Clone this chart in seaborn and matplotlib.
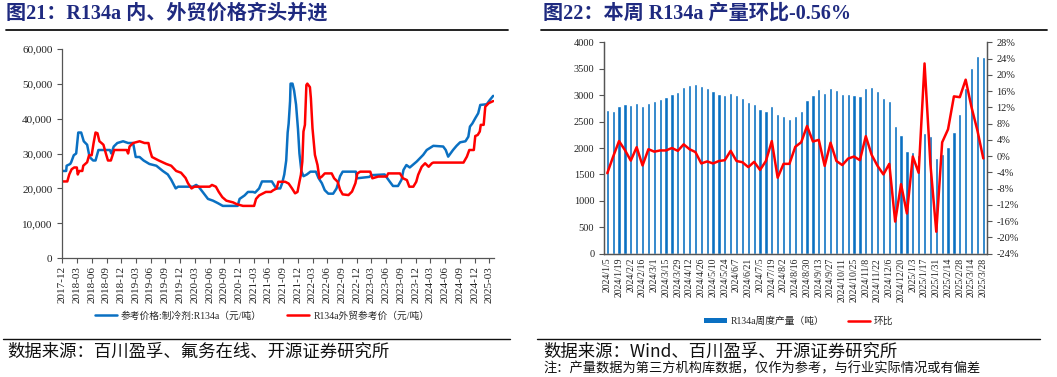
import numpy as np
import pandas as pd
import matplotlib
matplotlib.use("Agg")
import matplotlib.pyplot as plt
import matplotlib.dates as mdates
from matplotlib.lines import Line2D
from matplotlib.patches import Patch
from matplotlib.ticker import FuncFormatter, MultipleLocator
import seaborn as sns

# ---------------- data: left chart (price, 元/吨) ----------------
dom_dates = ["2017-12-01", "2017-12-25", "2017-12-28", "2018-01-19", "2018-01-25", "2018-02-10", "2018-02-25",
             "2018-03-10", "2018-03-28", "2018-04-13", "2018-05-04", "2018-05-19", "2018-06-10", "2018-06-25",
             "2018-07-13", "2018-09-22", "2018-10-01", "2018-10-16", "2018-11-07", "2018-12-13", "2019-01-13",
             "2019-02-13", "2019-03-01", "2019-03-25", "2019-04-19", "2019-05-25", "2019-07-07", "2019-08-16",
             "2019-09-16", "2019-10-07", "2019-11-04", "2019-11-19", "2020-02-19", "2020-03-10", "2020-03-25",
             "2020-04-19", "2020-05-22", "2020-06-22", "2020-07-22", "2020-08-22", "2020-11-22", "2020-12-04",
             "2021-01-04", "2021-01-25", "2021-02-25", "2021-03-10", "2021-04-04", "2021-04-22", "2021-06-22",
             "2021-07-19", "2021-08-13", "2021-08-25", "2021-09-07", "2021-09-19", "2021-09-28", "2021-10-04",
             "2021-10-13", "2021-10-16", "2021-10-28", "2021-11-07", "2021-11-19", "2021-12-01", "2021-12-10",
             "2021-12-22", "2022-01-04", "2022-01-25", "2022-02-16", "2022-03-22", "2022-04-07", "2022-04-28",
             "2022-05-16", "2022-06-07", "2022-07-07", "2022-07-28", "2022-08-19", "2022-09-04", "2022-11-25",
             "2022-12-01", "2023-02-16", "2023-03-01", "2023-05-22", "2023-06-22", "2023-07-13", "2023-08-13",
             "2023-09-04", "2023-09-16", "2023-10-04", "2023-10-25", "2023-12-07", "2024-01-16", "2024-02-07",
             "2024-03-19", "2024-05-19", "2024-06-04", "2024-06-19", "2024-07-19", "2024-08-10", "2024-09-01",
             "2024-10-04", "2024-10-22", "2024-11-01", "2024-11-16", "2024-12-04", "2024-12-22", "2025-01-04",
             "2025-02-13", "2025-03-04", "2025-03-25"]
dom_price = [25000, 25000, 26500, 27000, 27500, 29500, 30000,
             36000, 36000, 33500, 32500, 29000, 28000, 28000,
             31000, 31000, 30000, 32000, 33000, 33500, 33000,
             33000, 29000, 29000, 28000, 27000, 26500, 25000,
             24000, 22500, 20000, 20500, 20500, 21000, 20500,
             19000, 17000, 16500, 15800, 15000, 15000, 17000,
             18000, 19000, 19000, 18800, 20000, 22000, 22000,
             20000, 20000, 21500, 24000, 28000, 36000, 38500,
             45000, 50000, 50000, 48000, 44000, 37000, 30000,
             25000, 23500, 24000, 24800, 24800, 23000, 21500,
             19500, 18500, 18500, 20000, 23500, 24800, 24800,
             22900, 23300, 23800, 24000, 22000, 20700, 20700,
             22500, 25300, 26700, 26000, 27700, 29600, 31000,
             32200, 32000, 31000, 29100, 31000, 32200, 33200,
             33500, 34800, 37700, 38600, 40100, 41500, 43900,
             44100, 45300, 46500]

exp_dates = ["2017-12-01", "2018-01-01", "2018-01-13", "2018-01-28", "2018-02-13", "2018-03-01", "2018-03-07",
             "2018-03-16", "2018-04-04", "2018-04-10", "2018-05-04", "2018-05-16", "2018-06-01", "2018-06-13",
             "2018-06-25", "2018-07-07", "2018-07-19", "2018-08-01", "2018-08-13", "2018-08-28", "2018-09-10",
             "2018-09-28", "2018-10-19", "2019-01-04", "2019-01-13", "2019-01-22", "2019-02-13", "2019-03-25",
             "2019-04-25", "2019-05-19", "2019-05-28", "2019-06-10", "2019-07-01", "2019-07-22", "2019-09-07",
             "2019-10-07", "2019-11-07", "2019-12-07", "2020-01-04", "2020-01-19", "2020-02-10", "2020-02-28",
             "2020-06-01", "2020-06-16", "2020-07-10", "2020-07-28", "2020-08-19", "2020-09-13", "2020-10-25",
             "2020-11-16", "2020-12-25", "2021-03-04", "2021-03-16", "2021-04-04", "2021-04-25", "2021-05-16",
             "2021-06-16", "2021-07-01", "2021-07-22", "2021-08-01", "2021-09-13", "2021-10-04", "2021-10-25",
             "2021-11-13", "2021-11-28", "2021-12-10", "2021-12-19", "2021-12-28", "2022-01-04", "2022-01-13",
             "2022-01-22", "2022-01-28", "2022-02-13", "2022-02-19", "2022-03-01", "2022-03-16", "2022-04-01",
             "2022-04-13", "2022-04-28", "2022-05-16", "2022-06-28", "2022-07-13", "2022-08-04", "2022-08-19",
             "2022-09-04", "2022-10-10", "2022-11-01", "2022-11-22", "2022-12-04", "2022-12-22", "2023-02-22",
             "2023-03-07", "2023-04-13", "2023-06-04", "2023-06-13", "2023-08-25", "2023-09-13", "2023-10-07",
             "2023-10-22", "2023-11-16", "2023-12-04", "2023-12-16", "2024-01-07", "2024-01-28", "2024-02-19",
             "2024-03-10", "2024-03-19", "2024-09-22", "2024-10-13", "2024-10-28", "2024-11-25", "2024-12-04",
             "2024-12-19", "2025-01-01", "2025-01-07", "2025-01-25", "2025-02-04", "2025-02-25", "2025-03-25"]
exp_price = [22000, 22000, 24000, 25500, 26000, 26000, 24000,
             25000, 25000, 26500, 27500, 29500, 29500, 33000,
             36000, 35800, 33500, 33000, 32500, 30000, 28000,
             28000, 31000, 31000, 30000, 32000, 33000, 33500,
             33000, 33000, 31000, 29000, 28500, 28000, 27000,
             26500, 25000, 24500, 23000, 21500, 20000, 20500,
             20500, 21000, 20500, 19000, 17500, 16500, 16000,
             15500, 15000, 15000, 17000, 18000, 18500, 19000,
             19000, 19500, 20000, 21900, 21900, 21400, 20000,
             18600, 19000, 21900, 23900, 27700, 36300, 38200,
             49600, 50000, 49000, 45800, 37200, 29600, 26700,
             22900, 23400, 24300, 24300, 22900, 21900, 19600,
             18300, 18100, 19100, 21500, 24300, 24800, 24800,
             22900, 23400, 23400, 24300, 24300, 22900, 22400,
             20500, 20500, 21900, 23900, 26200, 27200, 26200,
             27200, 27400, 27400, 29100, 31000, 31000, 35000,
             35300, 36300, 38200, 38200, 43400, 44400, 45000]

left_series = ["参考价格:制冷剂:R134a（元/吨）", "R134a外贸参考价（元/吨）"]

# ---------------- data: right chart (weekly output) ----------------
weeks = ["2024/1/5", "2024/1/12", "2024/1/19", "2024/1/26", "2024/2/2", "2024/2/9", "2024/2/16", "2024/2/23",
         "2024/3/1", "2024/3/8", "2024/3/15", "2024/3/22", "2024/3/29", "2024/4/5", "2024/4/12", "2024/4/19",
         "2024/4/26", "2024/5/3", "2024/5/10", "2024/5/17", "2024/5/24", "2024/5/31", "2024/6/7", "2024/6/14",
         "2024/6/21", "2024/6/28", "2024/7/5", "2024/7/12", "2024/7/19", "2024/7/26", "2024/8/2", "2024/8/9",
         "2024/8/16", "2024/8/23", "2024/8/30", "2024/9/6", "2024/9/13", "2024/9/20", "2024/9/27", "2024/10/4",
         "2024/10/11", "2024/10/18", "2024/10/25", "2024/11/1", "2024/11/8", "2024/11/15", "2024/11/22",
         "2024/11/29", "2024/12/6", "2024/12/13", "2024/12/20", "2024/12/27", "2025/1/3", "2025/1/10",
         "2025/1/17", "2025/1/24", "2025/1/31", "2025/2/7", "2025/2/14", "2025/2/21", "2025/2/28", "2025/3/7",
         "2025/3/14", "2025/3/21", "2025/3/28"]
output = [2710, 2700, 2800, 2840, 2810, 2860, 2800, 2850,
          2880, 2920, 2960, 3020, 3060, 3150, 3200, 3220,
          3170, 3130, 3070, 3030, 3000, 3040, 3000, 2950,
          2870, 2830, 2730, 2700, 2800, 2650, 2600, 2550,
          2610, 2700, 2900, 3000, 3120, 3040, 3140, 3090,
          3030, 3015, 3010, 2980, 3130, 3150, 3070,
          2940, 2890, 2420, 2250, 1940, 1930, 1860,
          2280, 2230, 1820, 1890, 2010, 2310, 2640, 3140,
          3510, 3740, 3720]
wow_pct = [-4.2, -0.1, 3.7, 1.5, -1.1, 2.2, -2.3, 1.7,
           1.1, 1.4, 1.4, 2.0, 1.3, 2.9, 1.7, 1.0,
           -1.8, -1.3, -1.8, -1.2, -1.0, 1.3, -1.2, -1.5,
           -2.7, -1.4, -3.4, -1.2, 3.7, -5.3, -1.9, -1.9,
           2.3, 3.4, 7.4, 3.6, 4.0, -2.4, 3.3, -1.2,
           -2.2, -0.6, -0.1, -1.0, 4.9, 0.3, -2.4,
           -4.5, -1.9, -16.1, -6.9, -14.1, -0.1, -4.1,
           22.8, -2.0, -18.6, 3.4, 6.6, 14.7, 14.5, 18.8,
           12.0, 6.3, -0.56]
right_series = ["R134a周度产量（吨）", "环比"]

titles = ["图21：R134a 内、外贸价格齐头并进", "图22：本周 R134a 产量环比-0.56%"]
sources = ["数据来源：百川盈孚、氟务在线、开源证券研究所", "数据来源：Wind、百川盈孚、开源证券研究所"]
note = "注：产量数据为第三方机构库数据，仅作为参考，与行业实际情况或有偏差"

# ---------------- style ----------------
sns.set_theme(style="white")
SERIF = ["Liberation Serif", "Noto Sans CJK SC", "DejaVu Sans"]
CJK = ["Noto Sans CJK SC", "DejaVu Sans"]
plt.rcParams["font.family"] = SERIF
plt.rcParams["axes.unicode_minus"] = False

BLUE = "#0A70C2"
RED = "#FF0000"
NAVY = "#1F2A80"
W, H = 1057, 377

fig = plt.figure(figsize=(W / 100, H / 100), dpi=100)
fig.patch.set_facecolor("white")


def fx(px):
    return px / W


def fy(py):
    return 1 - py / H


# ---------------- left chart ----------------
axL = fig.add_axes([fx(62.3), fy(258.3), fx(493.5 - 62.3), (258.3 - 48.7) / H])
df_dom = pd.DataFrame({"date": pd.to_datetime(dom_dates), "price": dom_price})
df_exp = pd.DataFrame({"date": pd.to_datetime(exp_dates), "price": exp_price})
sns.lineplot(data=df_dom, x="date", y="price", color=BLUE, lw=1.8, ax=axL, label=left_series[0])
sns.lineplot(data=df_exp, x="date", y="price", color=RED, lw=1.8, ax=axL, label=left_series[1])
axL.set_xlim(pd.Timestamp("2017-12-01"), pd.Timestamp("2025-03-27"))
axL.set_ylim(0, 60000)
axL.yaxis.set_major_locator(MultipleLocator(10000))
axL.yaxis.set_major_formatter(FuncFormatter(lambda v, p: f"{v:,.0f}"))
axL.xaxis.set_major_locator(mdates.MonthLocator(bymonth=[3, 6, 9, 12], bymonthday=1))
axL.xaxis.set_major_formatter(mdates.DateFormatter("%Y-%m"))
axL.set_xlabel("")
axL.set_ylabel("")
for s in ["top", "right"]:
    axL.spines[s].set_visible(False)
for s in ["left", "bottom"]:
    axL.spines[s].set_color("#555555")
    axL.spines[s].set_linewidth(0.9)
axL.tick_params(axis="both", which="major", direction="out", length=3.5, width=0.8,
                color="#555555", labelsize=8, labelcolor="#222222", left=True, bottom=True)
axL.tick_params(axis="x", pad=2)
for t in axL.get_xticklabels():
    t.set_rotation(90)
axL.legend(loc="center", bbox_to_anchor=(fx(262), fy(316)), bbox_transform=fig.transFigure,
           ncol=2, frameon=False, handlelength=2.3, columnspacing=2.6,
           handletextpad=0.4, prop={"family": SERIF, "size": 7})

# ---------------- right chart ----------------
axR = fig.add_axes([fx(604), fy(253.7), fx(986.7 - 604), (253.7 - 42.3) / H])
sns.barplot(x=weeks, y=output, color=BLUE, width=0.55, ax=axR, saturation=1)
axR.set_ylim(0, 4000)
axR.yaxis.set_major_locator(MultipleLocator(500))
axR.set_xlim(-0.56, len(weeks) - 1 + 0.58)
axR.set_xticks(range(0, len(weeks), 2))
axR.set_xticklabels(weeks[::2], rotation=90)
axR.set_xlabel("")
axR.set_ylabel("")
axR.spines["top"].set_visible(False)
for s in ["left", "bottom", "right"]:
    axR.spines[s].set_color("#555555")
    axR.spines[s].set_linewidth(0.9)
axR.tick_params(axis="y", direction="out", length=3.5, width=0.8, color="#555555",
                labelsize=7.5, labelcolor="#222222", left=True)
axR.tick_params(axis="x", direction="out", length=0, labelsize=7, labelcolor="#222222", pad=3)

axR2 = axR.twinx()
sns.lineplot(x=np.arange(len(weeks)), y=wow_pct, color=RED, lw=1.8, ax=axR2, sort=False)
axR2.set_ylim(-24, 28)
axR2.yaxis.set_major_locator(MultipleLocator(4))
axR2.yaxis.set_major_formatter(FuncFormatter(lambda v, p: f"{v:.0f}%"))
axR2.set_ylabel("")
axR2.spines["top"].set_visible(False)
for s in ["left", "bottom", "right"]:
    axR2.spines[s].set_color("#555555")
    axR2.spines[s].set_linewidth(0.9)
axR2.tick_params(axis="y", direction="out", length=3.5, width=0.8, color="#555555",
                 labelsize=7.5, labelcolor="#222222", right=True)
axR2.set_xlim(axR.get_xlim())

handles = [Patch(facecolor=BLUE, edgecolor="none"), Line2D([0], [0], color=RED, lw=1.8)]
axR2.legend(handles, right_series, loc="center", bbox_to_anchor=(fx(799), fy(321)),
            bbox_transform=fig.transFigure, ncol=2, frameon=False, handlelength=2.3,
            handleheight=0.45, columnspacing=2.4, handletextpad=0.4,
            prop={"family": SERIF, "size": 7})

# ---------------- titles, rules, sources ----------------
fig.text(fx(6), fy(14), titles[0], fontsize=14.5, fontweight="bold", color=NAVY,
         va="center", ha="left", family=SERIF)
fig.text(fx(543), fy(14), titles[1], fontsize=14.5, fontweight="bold", color=NAVY,
         va="center", ha="left", family=SERIF)
for x0, x1 in [(6, 508), (541, 1047)]:
    fig.add_artist(Line2D([fx(x0), fx(x1)], [fy(29.5)] * 2, color="#111111", lw=1.3))
for x0, x1 in [(3, 510), (537, 1040)]:
    fig.add_artist(Line2D([fx(x0), fx(x1)], [fy(339)] * 2, color="#111111", lw=1.0))
fig.text(fx(7), fy(352), sources[0], fontsize=12.5, color="#111111", va="center", ha="left", family=CJK)
fig.text(fx(543), fy(352), sources[1], fontsize=12.5, color="#111111", va="center", ha="left", family=CJK)
fig.text(fx(543), fy(369), note, fontsize=9.5, color="#111111", va="center", ha="left", family=CJK)

fig.savefig("out.png", dpi=100, facecolor="white")
